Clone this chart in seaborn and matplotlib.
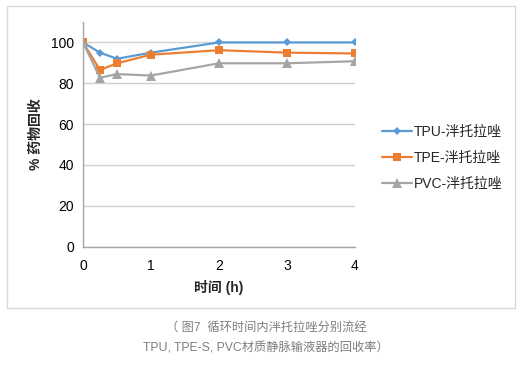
import matplotlib
matplotlib.use('Agg')
import matplotlib.pyplot as plt
import pandas as pd
import seaborn as sns
from matplotlib.patches import Rectangle

# 时间点 (h)
hours = [0, 0.25, 0.5, 1, 2, 3, 4]
# 三种材质的药物回收率 (%)
tpu = [100, 95, 92, 95, 100, 100, 100]
tpe = [100, 86.5, 89.8, 94, 96.2, 95, 94.6]
pvc = [100, 82.7, 84.5, 83.8, 89.8, 89.8, 90.8]
series_names = ['TPU-泮托拉唑', 'TPE-泮托拉唑', 'PVC-泮托拉唑']
y_ticks = [0, 20, 40, 60, 80, 100]
x_ticks = [0, 1, 2, 3, 4]
caption = '（ 图7  循环时间内泮托拉唑分别流经\nTPU, TPE-S, PVC材质静脉输液器的回收率）'

sns.set_theme(style='white')
plt.rcParams['font.family'] = ['Liberation Sans', 'Noto Sans CJK SC', 'DejaVu Sans']

df = pd.DataFrame({
    'hours': hours * 3,
    'value': tpu + tpe + pvc,
    'series': [series_names[0]] * 7 + [series_names[1]] * 7 + [series_names[2]] * 7,
})

fig = plt.figure(figsize=(5.22, 3.67), dpi=100)
ax = fig.add_axes([0.159, 0.328, 0.521, 0.612])

palette = {series_names[0]: '#5B9BD5', series_names[1]: '#ED7D31', series_names[2]: '#A5A5A5'}
markers = {series_names[0]: 'D', series_names[1]: 's', series_names[2]: '^'}
sizes = {series_names[0]: 4.5, series_names[1]: 6, series_names[2]: 6.5}

for name in series_names:
    sub = df[df['series'] == name]
    sns.lineplot(data=sub, x='hours', y='value', ax=ax, color=palette[name],
                 marker=markers[name], markersize=sizes[name], markeredgewidth=0,
                 linewidth=1.6, label=name)

ax.set_xlim(0, 4)
ax.set_ylim(0, 110)
ax.set_xticks(x_ticks)
ax.set_yticks(y_ticks)
ax.tick_params(labelsize=10, colors='#000000', length=3, width=0.8, direction='out')
ax.tick_params(axis='both', color='#A6A6A6')
ax.tick_params(axis='x', pad=6)
ax.grid(axis='y', color='#D0D0D0', linewidth=1)
ax.set_axisbelow(True)
for s in ['top', 'right']:
    ax.spines[s].set_visible(False)
for s in ['left', 'bottom']:
    ax.spines[s].set_color('#A6A6A6')
    ax.spines[s].set_linewidth(1)
ax.set_xlabel('时间 (h)', fontsize=10, fontweight='bold', labelpad=5)
ax.set_ylabel('% 药物回收', fontsize=10, fontweight='bold', labelpad=6)

ax.legend(loc='center left', bbox_to_anchor=(1.055, 0.395), frameon=False,
          fontsize=10, handlelength=2.1, handletextpad=0.15, labelspacing=0.85)

fig.patches.append(Rectangle((0.0134, 0.161), 0.9732, 0.8226, transform=fig.transFigure,
                             fill=False, edgecolor='#D9D9D9', linewidth=1))
fig.text(0.51, 0.079, caption, ha='center', va='center', fontsize=8.8,
         color='#7F7F7F', linespacing=1.95)

fig.savefig('out.png', dpi=100)
